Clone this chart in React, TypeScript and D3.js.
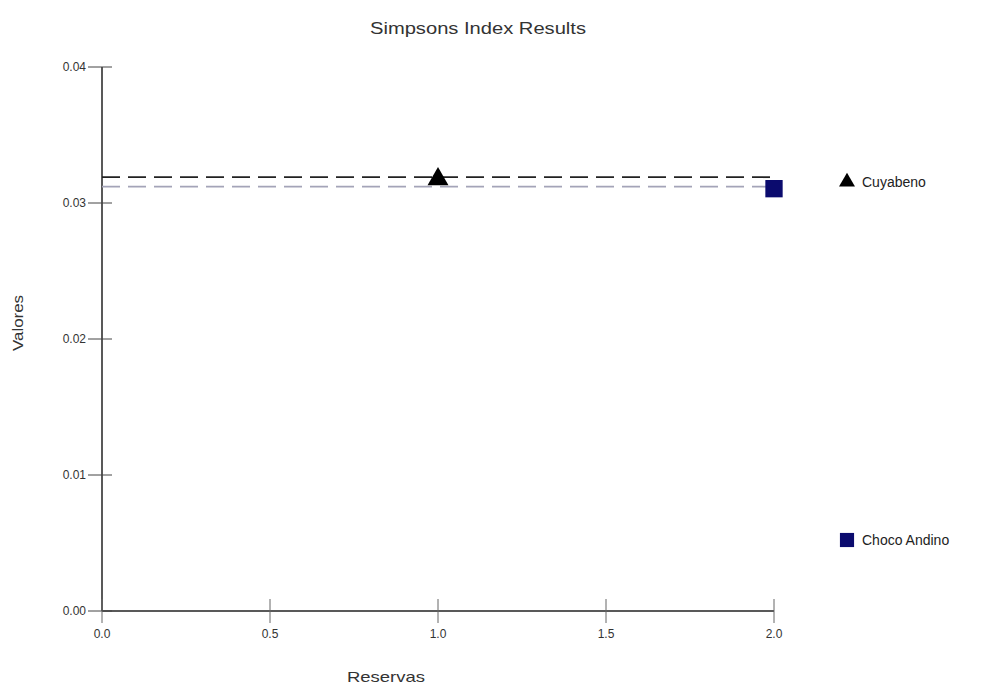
import React, { useEffect, useRef } from 'react';
import * as d3 from 'd3';

// series
const reservas = ['Cuyabeno', 'Choco Andino'];
const xValues = [1.0, 2.0];
const simpsonValues = [0.0319, 0.0312];
const markerColors = ['#000000', '#0b0b6e'];
const lineColors = ['#222222', '#a4a4b8'];
const markerShapes = ['triangle', 'square'];

// ticks
const xTicks = [0.0, 0.5, 1.0, 1.5, 2.0];
const yTicks = [0.0, 0.01, 0.02, 0.03, 0.04];

export default function App() {
  const ref = useRef<SVGSVGElement>(null);

  useEffect(() => {
    const width = 987, height = 685;
    const margin = { top: 67, left: 102 };
    const plotW = 672, plotH = 544;
    const font = 'Arial, Liberation Sans, sans-serif';

    const root = d3.select(ref.current);
    root.selectAll('*').remove();
    root.append('rect').attr('width', width).attr('height', height).attr('fill', '#ffffff');

    const svg = root.append('g').attr('transform', 'translate(' + margin.left + ',' + margin.top + ')');

    const x = d3.scaleLinear().domain([0, 2]).range([0, plotW]);
    const y = d3.scaleLinear().domain([0, 0.04]).range([plotH, 0]);

    // title
    root.append('text')
      .attr('x', 478).attr('y', 34)
      .attr('text-anchor', 'middle')
      .attr('font-family', font)
      .attr('font-size', 16).attr('fill', '#333')
      .attr('textLength', 216).attr('lengthAdjust', 'spacingAndGlyphs')
      .text('Simpsons Index Results');

    // axes
    svg.append('line').attr('x1', 0).attr('x2', 0).attr('y1', 0).attr('y2', plotH)
      .attr('stroke', '#222').attr('stroke-width', 1.5);
    svg.append('line').attr('x1', 0).attr('x2', plotW).attr('y1', plotH).attr('y2', plotH)
      .attr('stroke', '#222').attr('stroke-width', 1.5);

    // y ticks
    svg.selectAll('.ytick').data(yTicks).enter().append('line')
      .attr('x1', -14).attr('x2', 10)
      .attr('y1', d => y(d)).attr('y2', d => y(d))
      .attr('stroke', '#444').attr('stroke-width', 1);
    svg.selectAll('.ylab').data(yTicks).enter().append('text')
      .attr('x', -16).attr('y', d => y(d) + 4)
      .attr('text-anchor', 'end')
      .attr('font-family', font)
      .attr('font-size', 12).attr('fill', '#333')
      .text(d => d3.format('.2f')(d));

    // x ticks
    svg.selectAll('.xtick').data(xTicks).enter().append('line')
      .attr('x1', d => x(d)).attr('x2', d => x(d))
      .attr('y1', plotH - 12).attr('y2', plotH + 12)
      .attr('stroke', '#666').attr('stroke-width', 1);
    svg.selectAll('.xlab').data(xTicks).enter().append('text')
      .attr('x', d => x(d)).attr('y', plotH + 27)
      .attr('text-anchor', 'middle')
      .attr('font-family', font)
      .attr('font-size', 12).attr('fill', '#333')
      .text(d => d3.format('.1f')(d));

    // axis labels
    root.append('text')
      .attr('x', 347).attr('y', 682)
      .attr('font-family', font)
      .attr('font-size', 15).attr('fill', '#333')
      .attr('textLength', 78).attr('lengthAdjust', 'spacingAndGlyphs')
      .text('Reservas');
    root.append('text')
      .attr('transform', 'translate(23,323) rotate(-90)')
      .attr('text-anchor', 'middle')
      .attr('font-family', font)
      .attr('font-size', 15).attr('fill', '#333')
      .attr('textLength', 56).attr('lengthAdjust', 'spacingAndGlyphs')
      .text('Valores');

    // dashed reference lines
    svg.selectAll('.ref').data(simpsonValues).enter().append('line')
      .attr('x1', 0).attr('x2', plotW)
      .attr('y1', d => y(d)).attr('y2', d => y(d))
      .attr('stroke', (d, i) => lineColors[i])
      .attr('stroke-width', 1.8)
      .attr('stroke-dasharray', '18,8');

    const triangle = d3.symbol().type(d3.symbolTriangle).size(190);
    const square = d3.symbol().type(d3.symbolSquare).size(300);
    const shapeFor = (i: number) => (markerShapes[i] === 'triangle' ? triangle() : square());

    // points
    svg.selectAll('.pt').data(simpsonValues).enter().append('path')
      .attr('d', (d, i) => shapeFor(i))
      .attr('transform', (d, i) => 'translate(' + x(xValues[i]) + ',' + (y(d) + 2) + ')')
      .attr('fill', (d, i) => markerColors[i]);

    // legend
    const legendY = [182, 540];
    const legend = root.selectAll('.leg').data(reservas).enter().append('g')
      .attr('transform', (d, i) => 'translate(847,' + legendY[i] + ')');
    legend.append('path')
      .attr('d', (d, i) => (i === 0 ? d3.symbol().type(d3.symbolTriangle).size(110)() : d3.symbol().type(d3.symbolSquare).size(200)()))
      .attr('fill', (d, i) => markerColors[i]);
    legend.append('text')
      .attr('x', 15).attr('y', 5)
      .attr('font-family', font)
      .attr('font-size', 14).attr('fill', '#222')
      .text(d => d);
  }, []);

  return (
    <svg ref={ref} width={987} height={685} style={{ position: 'absolute', left: 0, top: 0 }} />
  );
}
